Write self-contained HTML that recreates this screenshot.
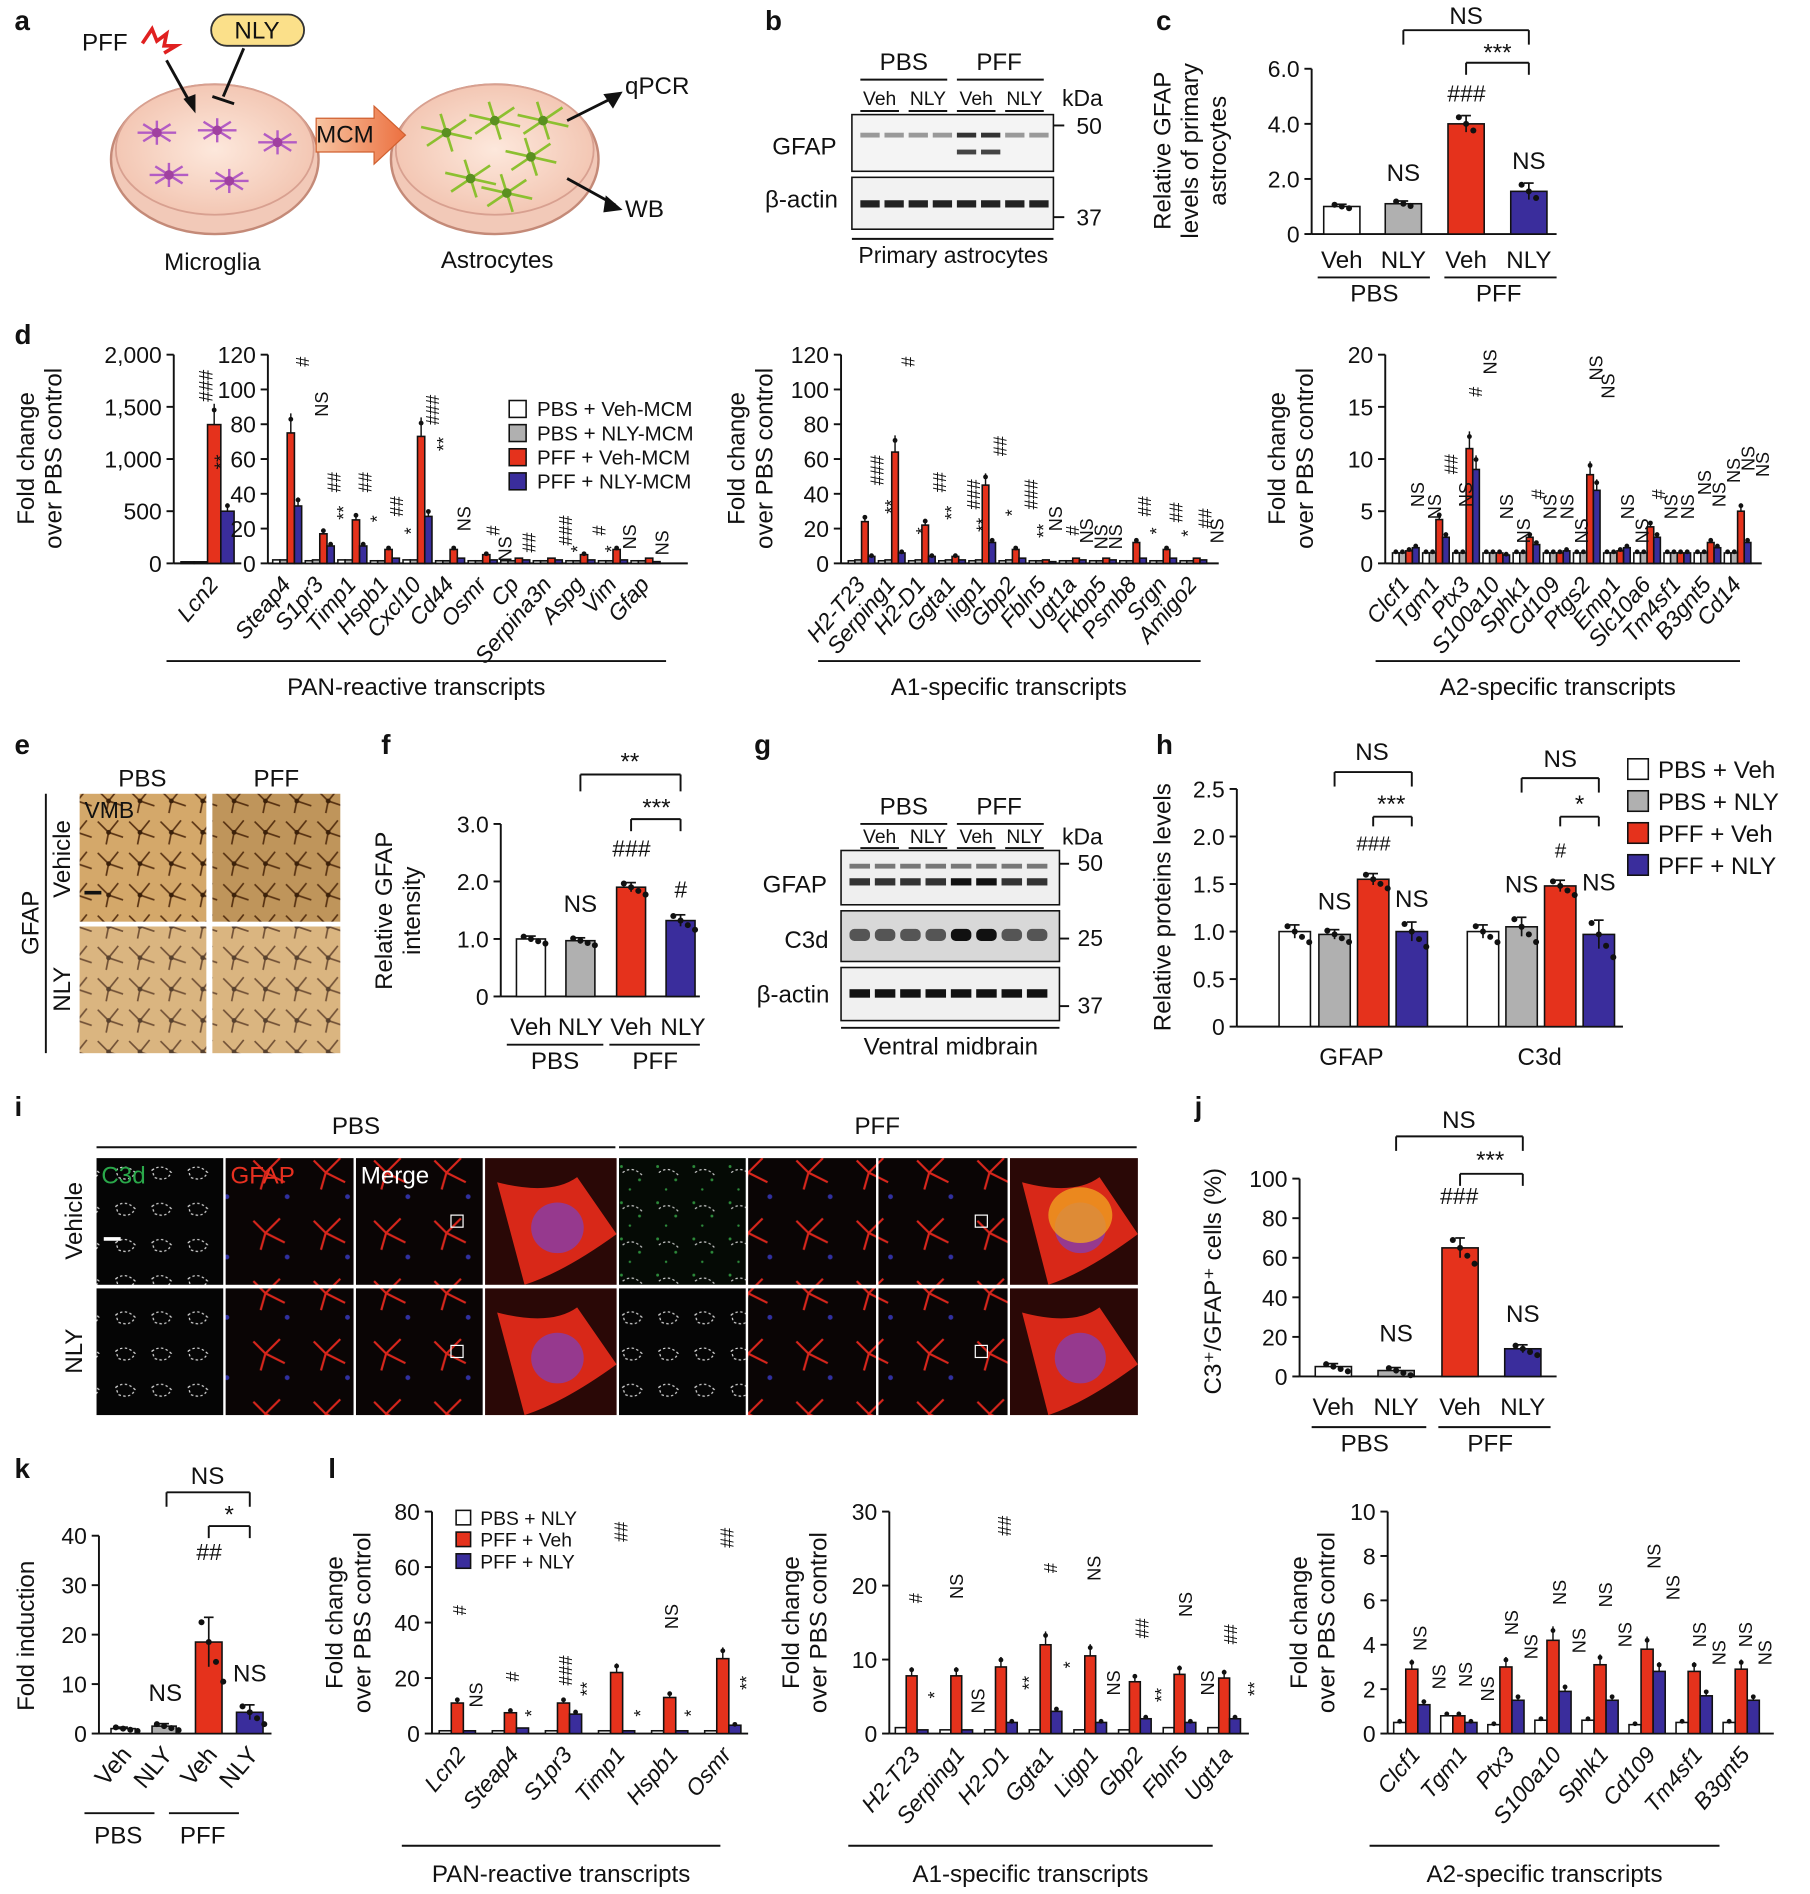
<!DOCTYPE html>
<html><head><meta charset="utf-8">
<style>
html,body{margin:0;padding:0;background:#fff;}
svg{display:block;font-family:"Liberation Sans",Arial,sans-serif;}
</style></head>
<body>
<svg id="s" width="1810" height="1894" viewBox="0 0 1500 1570" preserveAspectRatio="none" xmlns="http://www.w3.org/2000/svg">
<defs>
<radialGradient id="dish" cx="50%" cy="50%" r="50%"><stop offset="0" stop-color="#fde8dc"/><stop offset="1" stop-color="#f3c7b4"/></radialGradient>
<linearGradient id="arrow" x1="0" x2="1"><stop offset="0" stop-color="#f7c3a0"/><stop offset="1" stop-color="#ec7040"/></linearGradient>
<pattern id="brown" width="26" height="26" patternUnits="userSpaceOnUse">
<rect width="26" height="26" fill="#d4a86a"/>
<path d="M3 5 L12 14 L20 4 M12 14 L10 24 M12 14 L24 18" stroke="#5a3414" stroke-width="1.4" fill="none"/>
<circle cx="12" cy="14" r="2" fill="#3a200a"/>
</pattern>
<pattern id="fluor" width="50" height="50" patternUnits="userSpaceOnUse">
<rect width="50" height="50" fill="#0a0505"/>
<path d="M10 12 L20 22 L32 10 M20 22 L16 36 M20 22 L36 30" stroke="#d9261c" stroke-width="1.8" fill="none"/>
<circle cx="38" cy="42" r="2" fill="#3030a0"/>
</pattern>
<pattern id="fluorG" width="30" height="30" patternUnits="userSpaceOnUse">
<rect width="30" height="30" fill="#050a05"/>
<circle cx="5" cy="7" r="1.2" fill="#2c8a3a"/><circle cx="20" cy="18" r="1.2" fill="#2c8a3a"/><circle cx="12" cy="26" r="1" fill="#2c8a3a"/>
<path d="M6 12 q8 -6 16 2" stroke="#ccc" stroke-dasharray="2,2" fill="none"/>
</pattern>
<pattern id="dots" width="30" height="30" patternUnits="userSpaceOnUse">
<rect width="30" height="30" fill="#050505"/>
<path d="M6 10 q8 -6 16 2 q-4 8 -14 4z" stroke="#ddd" stroke-dasharray="2,2" fill="none"/>
</pattern>
</defs>
</svg>
<script>
var S=document.getElementById('s'),NS='http://www.w3.org/2000/svg';
function E(t,a){var e=document.createElementNS(NS,t);for(var k in a)e.setAttribute(k,a[k]);S.appendChild(e);return e;}
function T(x,y,s,o){o=o||{};var a={x:x,y:y,'font-size':o.size||19,fill:o.fill||'#111','text-anchor':o.anchor||'start'};
if(o.rot)a.transform='rotate('+o.rot+' '+x+' '+y+')';if(o.bold)a['font-weight']='bold';if(o.it)a['font-style']='italic';
var e=E('text',a);e.textContent=s;return e;}
function L(x1,y1,x2,y2,w){E('line',{x1:x1,y1:y1,x2:x2,y2:y2,stroke:'#111','stroke-width':w||1.6});}
function R(x,y,w,h,f,st){E('rect',{x:x,y:y,width:w,height:h,fill:f,stroke:st||'#111','stroke-width':1.3});}
var W='#ffffff',G='#b0b0b0',RD='#e5321c',BL='#3a2d9c';
function axis(ax,top,bot,max,ticks,labs,end,size){
 L(ax,top,ax,bot);if(end)L(ax,bot,end,bot);
 ticks.forEach(function(v,i){var y=bot-v/max*(bot-top);L(ax-6,y,ax,y);T(ax-10,y+7,labs?labs[i]:String(v),{anchor:'end',size:size||19});});
}
function bars(ax,top,bot,max,list){list.forEach(function(b){var h=b[2]/max*(bot-top);R(b[0],bot-h,b[1],h,b[3]);
 var e=b[4]!==undefined?b[4]:b[2]*0.08;var ey=e/max*(bot-top);var cx=b[0]+b[1]/2;L(cx,bot-h-ey,cx,bot-h+ey,1.4);L(cx-4,bot-h-ey,cx+4,bot-h-ey,1.4);
 var n=b[5]||3;for(var i=0;i<n;i++){E('circle',{cx:cx-6+i*6,cy:bot-h+(i-1)*ey*0.8,r:2.5,fill:'#111'});}});}
function group(ax,top,bot,max,start,gw,bw,names,series,cols,lx){
 names.forEach(function(n,g){series.forEach(function(vals,s){var v=vals[g];var h=v/max*(bot-top);var x=start+g*gw+s*bw;R(x,bot-h,bw,h,cols[s],'#111');
  if(v/max>0.03){var cx=x+bw/2;var ey=h*0.15;L(cx,bot-h-ey,cx,bot-h,1.2);E('circle',{cx:cx,cy:bot-h-ey*0.7,r:2,fill:'#111'});}});
  var cx=start+g*gw+series.length*bw/2+(lx||4);T(cx,bot+18,n,{anchor:'end',rot:-50,it:true,size:19});});}
function rotLabel(x,y,lines,size){lines.forEach(function(s,i){T(x+i*23,y,s,{rot:-90,anchor:'middle',size:size||20});});}
function bracket(x1,x2,y,d){L(x1,y+d,x1,y);L(x1,y,x2,y);L(x2,y,x2,y+d);}

[['a',12,25],['b',634,25],['c',958,25],['d',12,285],['e',12,625],['f',316,625],['g',625,625],['h',958,625],['i',12,925],['j',990,925],['k',12,1225],['l',272,1225]].forEach(function(p){T(p[1],p[2],p[0],{bold:true,size:23});});

// ---- panel a
E('ellipse',{cx:178,cy:132,rx:86,ry:62,fill:'#f2c9b8',stroke:'#c48a78','stroke-width':2});
E('ellipse',{cx:178,cy:124,rx:82,ry:54,fill:'url(#dish)',stroke:'#d8a090','stroke-width':1.5});
E('ellipse',{cx:410,cy:132,rx:86,ry:62,fill:'#f2c9b8',stroke:'#c48a78','stroke-width':2});
E('ellipse',{cx:410,cy:124,rx:82,ry:54,fill:'url(#dish)',stroke:'#d8a090','stroke-width':1.5});
[[130,110],[180,108],[230,118],[140,145],[190,150]].forEach(function(p){for(var k=0;k<8;k++){var a=k*Math.PI/4;E('line',{x1:p[0],y1:p[1],x2:p[0]+16*Math.cos(a),y2:p[1]+10*Math.sin(a),stroke:'#b35cc4','stroke-width':2});}
 E('circle',{cx:p[0],cy:p[1],r:4,fill:'#a040a0'});});
[[370,110],[410,100],[440,130],[390,148],[450,100],[420,160]].forEach(function(p){for(var k=0;k<6;k++){var a=k*Math.PI/3+0.3;E('line',{x1:p[0],y1:p[1],x2:p[0]+22*Math.cos(a),y2:p[1]+16*Math.sin(a),stroke:'#8cc030','stroke-width':2.2});}
 E('circle',{cx:p[0],cy:p[1],r:4,fill:'#5a9020'});});
E('path',{d:'M262 98 L310 98 L310 88 L336 112 L310 136 L310 126 L262 126 Z',fill:'url(#arrow)',stroke:'#d06030'});
T(262,118,'MCM',{size:20});
T(68,42,'PFF',{size:20});
E('path',{d:'M118 36 l8 -12 l4 10 l8 -6 l-2 10 l10 0 l-10 6',stroke:'#e02020','stroke-width':3,fill:'none'});
E('rect',{x:175,y:12,width:77,height:26,rx:13,fill:'#fbe08a',stroke:'#333','stroke-width':1.5});
T(213,32,'NLY',{anchor:'middle',size:20});
L(138,50,158,86,2.4);E('path',{d:'M152 82 L162 94 L162 78Z',fill:'#111'});
L(202,40,185,80,2.4);L(176,80,194,86,2.4);
T(176,224,'Microglia',{anchor:'middle',size:20});T(412,222,'Astrocytes',{anchor:'middle',size:20});
L(470,100,510,80,2.4);E('path',{d:'M516 76 L500 78 L508 90Z',fill:'#111'});T(518,78,'qPCR',{size:20});
L(470,148,510,170,2.4);E('path',{d:'M516 174 L502 162 L500 176Z',fill:'#111'});T(518,180,'WB',{size:20});

// ---- panel b
T(749,58,'PBS',{anchor:'middle',size:20});T(828,58,'PFF',{anchor:'middle',size:20});
L(713,66,785,66);L(793,66,865,66);
T(729,87,'Veh',{anchor:'middle',size:16});T(769,87,'NLY',{anchor:'middle',size:16});T(809,87,'Veh',{anchor:'middle',size:16});T(849,87,'NLY',{anchor:'middle',size:16});
L(713,92,745,92);L(753,92,785,92);L(793,92,825,92);L(833,92,865,92);
T(897,88,'kDa',{anchor:'middle',size:19});
R(706,95,167,47,'#f4f4f4');R(706,147,167,43,'#f2f2f2');
for(var i=0;i<8;i++){var x=713+i*20;E('rect',{x:x,y:110,width:16,height:4,fill:i>3&&i<6?'#333':'#999'});if(i>3&&i<6)E('rect',{x:x,y:124,width:16,height:4,fill:'#444'});E('rect',{x:x,y:166,width:16,height:6,fill:'#222'});}
L(873,104,882,104);T(892,111,'50',{size:19});L(873,180,882,180);T(892,187,'37',{size:19});
T(640,128,'GFAP',{size:20});T(634,172,'β-actin',{size:20});
L(706,198,873,198);T(790,218,'Primary astrocytes',{anchor:'middle',size:19});

// ---- panel c
axis(1087,57,194,6,[0,2,4,6],['0','2.0','4.0','6.0']);
L(1087,194,1290,194);
bars(1087,57,194,6,[[1097,30,1.0,W,0.08],[1148,30,1.1,G,0.1],[1200,30,4.0,RD,0.3],[1252,30,1.55,BL,0.3]]);
rotLabel(970,125,['Relative GFAP','levels of primary','astrocytes']);
T(1112,222,'Veh',{anchor:'middle',size:20});T(1163,222,'NLY',{anchor:'middle',size:20});T(1215,222,'Veh',{anchor:'middle',size:20});T(1267,222,'NLY',{anchor:'middle',size:20});
L(1092,230,1185,230);L(1197,230,1290,230);T(1139,250,'PBS',{anchor:'middle',size:20});T(1242,250,'PFF',{anchor:'middle',size:20});
bracket(1163,1267,25,12);T(1215,20,'NS',{anchor:'middle',size:20});bracket(1215,1267,52,10);T(1241,50,'***',{anchor:'middle',size:20});
T(1215,84,'###',{anchor:'middle',size:19,it:true});T(1163,150,'NS',{anchor:'middle',size:20});T(1267,140,'NS',{anchor:'middle',size:20});

// ---- panel d
var cols4=[W,G,RD,BL];
rotLabel(28,380,['Fold change','over PBS control']);
axis(144,294,467,2000,[0,500,1000,1500,2000],['0','500','1,000','1,500','2,000'],200);
group(144,294,467,2000,150,48,11,['Lcn2'],[[15],[15],[1330],[500]],cols4,10);
T(176,320,'###',{anchor:'middle',size:16,it:true,rot:-90});T(189,383,'**',{anchor:'middle',size:16,rot:-90});
axis(222,294,467,120,[0,20,40,60,80,100,120],null,570);
group(222,294,467,120,226,27,6,['Steap4','S1pr3','Timp1','Hspb1','Cxcl10','Cd44','Osmr','Cp','Serpina3n','Aspg','Vim','Gfap'],
 [[2,1.5,2,1.5,2,1.5,1.5,1.5,1.5,1.5,1.5,1.5],[2,2,2,1.5,2,1.5,1.5,1.5,1.5,1.5,1.5,1.5],[75,17,25,8,73,8,5,3,3,5,8,3],[33,10,10,3,27,3,2,2,2,2,2,1]],cols4);
[['#',242,300],['NS',258,335],['##',268,400],['**',276,425],['##',294,400],['*',304,430],['##',320,420],['*',332,440],['###',350,340],['**',359,368],['NS',376,430],['#',400,440],['NS',410,455],['##',430,450],['###',460,440],['*',470,455],['#',488,440],['*',498,455],['NS',513,445],['NS',540,450]].forEach(function(a){T(a[1]+14,a[2],a[0],{rot:-90,size:15,it:a[0][0]=='#',anchor:'middle'});});
[[W,'PBS + Veh-MCM'],[G,'PBS + NLY-MCM'],[RD,'PFF + Veh-MCM'],[BL,'PFF + NLY-MCM']].forEach(function(l,i){R(422,332+i*20,14,14,l[0]);T(445,345+i*20,l[1],{size:17});});
L(138,548,552,548);T(345,576,'PAN-reactive transcripts',{anchor:'middle',size:20});
rotLabel(617,380,['Fold change','over PBS control']);
axis(697,294,467,120,[0,20,40,60,80,100,120],null,1010);
group(697,294,467,120,703,25,5.5,['H2-T23','Serping1','H2-D1','Ggta1','Iigp1','Gbp2','Fbln5','Ugt1a','Fkbp5','Psmb8','Srgn','Amigo2'],
 [[1.5,1.5,1.5,1.5,1.5,1.5,1.5,1.5,1.5,1.5,1.5,1.5],[2,2,2,2,2,2,1.5,1.5,1.5,1.5,1.5,1.5],[24,64,22,4,45,8,2,3,3,12,8,3],[4,6,4,2,12,3,1,2,2,3,3,2]],cols4);
[['###',718,390],['**',730,420],['#',744,300],['*',756,440],['##',770,400],['**',780,425],['###',798,410],['**',806,435],['##',820,370],['*',830,425],['###',846,410],['**',856,440],['NS',866,430],['#',880,440],['NS',892,440],['NS',904,445],['NS',916,445],['##',940,420],['*',950,440],['##',966,425],['*',976,442],['##',990,430],['NS',1000,440]].forEach(function(a){T(a[1]+14,a[2],a[0],{rot:-90,size:15,it:a[0][0]=='#',anchor:'middle'});});
L(678,548,995,548);T(836,576,'A1-specific transcripts',{anchor:'middle',size:20});
rotLabel(1065,380,['Fold change','over PBS control']);
axis(1148,294,467,20,[0,5,10,15,20],null,1460);
group(1148,294,467,20,1154,25,5.5,['Clcf1','Tgm1','Ptx3','S100a10','Sphk1','Cd109','Ptgs2','Emp1','Slc10a6','Tm4sf1','B3gnt5','Cd14'],
 [[1,1,1,1,1,1,1,1,1,1,1,1],[1,1,1,1,1,1,1,1,1,1,1,1],[1.2,4.2,11,1,2.5,1,8.5,1.2,3.5,1,2,5],[1.5,2.5,9,0.8,1.8,1.2,7,1.5,2.5,1,1.5,2]],cols4);
[['NS',1166,410],['NS',1180,420],['##',1194,385],['NS',1206,410],['#',1214,325],['NS',1226,300],['NS',1240,420],['NS',1254,440],['#',1266,410],['NS',1276,420],['NS',1290,420],['NS',1302,440],['NS',1314,305],['NS',1324,320],['NS',1340,420],['NS',1352,440],['#',1366,410],['NS',1376,420],['NS',1390,420],['NS',1404,400],['NS',1416,410],['NS',1428,390],['NS',1440,380],['NS',1452,385]].forEach(function(a){T(a[1]+14,a[2],a[0],{rot:-90,size:15,it:a[0][0]=='#',anchor:'middle'});});
L(1140,548,1442,548);T(1291,576,'A2-specific transcripts',{anchor:'middle',size:20});

// ---- panel e
T(118,652,'PBS',{anchor:'middle',size:20});T(229,652,'PFF',{anchor:'middle',size:20});
E('rect',{x:66,y:658,width:105,height:106,fill:'url(#brown)'});E('rect',{x:176,y:658,width:106,height:106,fill:'url(#brown)'});
E('rect',{x:176,y:658,width:106,height:106,fill:'#4a2808',opacity:0.15});
E('rect',{x:66,y:768,width:105,height:105,fill:'url(#brown)'});E('rect',{x:176,y:768,width:106,height:105,fill:'url(#brown)'});
E('rect',{x:66,y:768,width:216,height:105,fill:'#fff',opacity:0.15});
T(70,678,'VMB',{size:19});L(70,740,84,740,3);
L(38,658,38,873);
T(58,712,'Vehicle',{rot:-90,anchor:'middle',size:20});T(58,820,'NLY',{rot:-90,anchor:'middle',size:20});
T(32,765,'GFAP',{rot:-90,anchor:'middle',size:20});

// ---- panel f
axis(415,683,826,3,[0,1,2,3],['0','1.0','2.0','3.0']);L(415,826,580,826);
bars(415,683,826,3,[[428,24,1.0,W,0.05,4],[469,24,0.97,G,0.05,4],[511,24,1.9,RD,0.08,4],[552,24,1.32,BL,0.1,4]]);
rotLabel(325,755,['Relative GFAP','intensity']);
T(440,858,'Veh',{anchor:'middle',size:20});T(481,858,'NLY',{anchor:'middle',size:20});T(523,858,'Veh',{anchor:'middle',size:20});T(566,858,'NLY',{anchor:'middle',size:20});
L(420,866,500,866);L(505,866,580,866);T(460,886,'PBS',{anchor:'middle',size:20});T(543,886,'PFF',{anchor:'middle',size:20});
bracket(481,564,642,14);T(522,638,'**',{anchor:'middle',size:20});bracket(523,564,679,10);T(544,676,'***',{anchor:'middle',size:20});
T(523,710,'###',{anchor:'middle',size:19,it:true});T(481,756,'NS',{anchor:'middle',size:20});T(564,744,'#',{anchor:'middle',size:19,it:true});

// ---- panel g
T(749,675,'PBS',{anchor:'middle',size:20});T(828,675,'PFF',{anchor:'middle',size:20});
L(713,683,785,683);L(793,683,865,683);
T(729,699,'Veh',{anchor:'middle',size:16});T(769,699,'NLY',{anchor:'middle',size:16});T(809,699,'Veh',{anchor:'middle',size:16});T(849,699,'NLY',{anchor:'middle',size:16});
L(713,703,745,703);L(753,703,785,703);L(793,703,825,703);L(833,703,865,703);
T(897,700,'kDa',{anchor:'middle',size:19});
R(697,705,181,45,'#efefef');R(697,755,181,42,'#d8d8d8');R(697,802,181,44,'#f0f0f0');
for(var i=0;i<8;i++){var x=704+i*21;E('rect',{x:x,y:716,width:17,height:4,fill:'#777'});E('rect',{x:x,y:728,width:17,height:6,fill:i==4||i==5?'#111':'#333'});
 E('rect',{x:x,y:770,width:17,height:10,rx:4,fill:i==4||i==5?'#111':'#555'});E('rect',{x:x,y:820,width:17,height:7,fill:'#111'});}
L(878,716,886,716);T(893,722,'50',{size:19});L(878,778,886,778);T(893,784,'25',{size:19});L(878,834,886,834);T(893,840,'37',{size:19});
T(632,740,'GFAP',{size:20});T(650,786,'C3d',{size:20});T(627,831,'β-actin',{size:20});
L(697,852,878,852);T(788,874,'Ventral midbrain',{anchor:'middle',size:20});

// ---- panel h
axis(1025,654,851,2.5,[0,0.5,1,1.5,2,2.5],['0','0.5','1.0','1.5','2.0','2.5']);L(1025,851,1345,851);
bars(1025,654,851,2.5,[[1060,26,1.0,W,0.07,4],[1093,26,0.97,G,0.05,4],[1125,26,1.55,RD,0.06,4],[1157,26,1.0,BL,0.1,4],
 [1216,26,1.0,W,0.07,4],[1248,26,1.05,G,0.1,4],[1280,26,1.48,RD,0.06,4],[1312,26,0.97,BL,0.15,4]]);
rotLabel(970,752,['Relative proteins levels']);
T(1120,883,'GFAP',{anchor:'middle',size:20});T(1276,883,'C3d',{anchor:'middle',size:20});
bracket(1106,1170,640,12);T(1137,630,'NS',{anchor:'middle',size:20});bracket(1138,1170,677,8);T(1153,673,'***',{anchor:'middle',size:20});
T(1138,705,'###',{anchor:'middle',size:17,it:true});T(1106,754,'NS',{anchor:'middle',size:20});T(1170,752,'NS',{anchor:'middle',size:20});
bracket(1261,1325,645,12);T(1293,636,'NS',{anchor:'middle',size:20});bracket(1293,1325,677,8);T(1309,673,'*',{anchor:'middle',size:20});
T(1293,711,'#',{anchor:'middle',size:17,it:true});T(1261,740,'NS',{anchor:'middle',size:20});T(1325,738,'NS',{anchor:'middle',size:20});
[[W,'PBS + Veh'],[G,'PBS + NLY'],[RD,'PFF + Veh'],[BL,'PFF + NLY']].forEach(function(l,i){R(1349,629+i*26.5,17,17,l[0]);T(1374,645+i*26.5,l[1],{size:20});});

// ---- panel i
T(295,940,'PBS',{anchor:'middle',size:20});T(727,940,'PFF',{anchor:'middle',size:20});
L(80,951,510,951);L(513,951,942,951);
var cx=[80,187,295,402,513,620,728,837];
[[960,1065],[1068,1173]].forEach(function(r,ri){cx.forEach(function(x,ci){var w=(ci<7?cx[ci+1]-2:943)-x;var h=r[1]-r[0];
 var f=(ci%4==0)?(ci==4&&ri==0?'url(#fluorG)':'url(#dots)'):(ci%4==3?'#2a0806':'url(#fluor)');
 E('rect',{x:x,y:r[0],width:w,height:h,fill:f});
 if(ci%4==3){E('path',{d:'M'+(x+10)+' '+(r[0]+20)+' Q'+(x+w/2)+' '+(r[0]+h*0.3)+' '+(x+w*0.7)+' '+(r[0]+h*0.15)+' L'+(x+w)+' '+(r[0]+h*0.6)+' Q'+(x+w*0.6)+' '+(r[0]+h*0.9)+' '+(x+w*0.3)+' '+(r[1])+' Z',fill:'#d82818'});
  E('ellipse',{cx:x+w*0.55,cy:r[0]+h*0.55,rx:w*0.2,ry:h*0.2,fill:'#7a40c0',opacity:0.7});
  if(ci==7&&ri==0)E('ellipse',{cx:x+w*0.55,cy:r[0]+h*0.45,rx:w*0.25,ry:h*0.22,fill:'#f0a020',opacity:0.8});}
 if(ci%4==2){E('rect',{x:x+w*0.75,y:r[0]+h*0.45,width:10,height:10,fill:'none',stroke:'#fff'});}
});});
T(84,981,'C3d',{size:20,fill:'#2aa84a'});T(191,981,'GFAP',{size:20,fill:'#e83020'});T(299,981,'Merge',{size:20,fill:'#fff'});
E('line',{x1:86,y1:1027,x2:100,y2:1027,stroke:'#fff','stroke-width':3});
T(68,1012,'Vehicle',{rot:-90,anchor:'middle',size:20});T(68,1120,'NLY',{rot:-90,anchor:'middle',size:20});

// ---- panel j
axis(1077,977,1141,100,[0,20,40,60,80,100]);L(1077,1141,1290,1141);
bars(1077,977,1141,100,[[1090,30,5,W,1.5,4],[1142,30,3,G,1.5,4],[1195,30,65,RD,5,4],[1247,30,14,BL,2,4]]);
T(1012,1062,'C3⁺/GFAP⁺ cells (%)',{rot:-90,anchor:'middle',size:20});
T(1105,1173,'Veh',{anchor:'middle',size:20});T(1157,1173,'NLY',{anchor:'middle',size:20});T(1210,1173,'Veh',{anchor:'middle',size:20});T(1262,1173,'NLY',{anchor:'middle',size:20});
L(1087,1183,1182,1183);L(1192,1183,1285,1183);T(1131,1203,'PBS',{anchor:'middle',size:20});T(1235,1203,'PFF',{anchor:'middle',size:20});
bracket(1157,1262,942,12);T(1209,935,'NS',{anchor:'middle',size:20});bracket(1210,1262,973,10);T(1235,968,'***',{anchor:'middle',size:20});
T(1209,998,'###',{anchor:'middle',size:19,it:true});T(1157,1112,'NS',{anchor:'middle',size:20});T(1262,1096,'NS',{anchor:'middle',size:20});

// ---- panel k
axis(82,1273,1437,40,[0,10,20,30,40]);L(82,1437,225,1437);
bars(82,1273,1437,40,[[92,20,1,W,0.3,4],[126,20,1.5,G,0.5,4],[162,22,18.5,RD,5,4],[196,22,4.3,BL,1.5,4]]);
rotLabel(28,1356,['Fold induction']);
[['Veh',102],['NLY',136],['Veh',173],['NLY',207]].forEach(function(a){T(a[1]+8,1455,a[0],{rot:-50,anchor:'end',size:20});});
L(70,1503,128,1503);L(140,1503,198,1503);T(98,1528,'PBS',{anchor:'middle',size:20});T(168,1528,'PFF',{anchor:'middle',size:20});
bracket(138,207,1237,12);T(172,1230,'NS',{anchor:'middle',size:20});bracket(173,207,1265,10);T(190,1262,'*',{anchor:'middle',size:20});
T(173,1293,'##',{anchor:'middle',size:19,it:true});T(137,1410,'NS',{anchor:'middle',size:20});T(207,1394,'NS',{anchor:'middle',size:20});

// ---- panel l
var cols3=[W,RD,BL];
rotLabel(284,1345,['Fold change','over PBS control']);
axis(358,1253,1437,80,[0,20,40,60,80],null,620);
group(358,1253,1437,80,364,44,10,['Lcn2','Steap4','S1pr3','Timp1','Hspb1','Osmr'],[[1,1,1,1,1,1],[11,7.5,11,22,13,27],[1,2,7,1,1,3]],cols3,8);
[['#',386,1335],['NS',400,1405],['#',430,1390],['*',446,1420],['###',474,1385],['**',492,1400],['##',520,1270],['*',536,1420],['NS',562,1340],['*',578,1420],['##',608,1275],['**',624,1395]].forEach(function(a){T(a[1],a[2],a[0],{rot:-90,size:15,it:a[0][0]=='#',anchor:'middle'});});
[[W,'PBS + NLY'],[RD,'PFF + Veh'],[BL,'PFF + NLY']].forEach(function(l,i){R(378,1252+i*18,12,12,l[0]);T(398,1264+i*18,l[1],{size:16});});
L(333,1530,597,1530);T(465,1560,'PAN-reactive transcripts',{anchor:'middle',size:20});
rotLabel(662,1345,['Fold change','over PBS control']);
axis(737,1253,1437,30,[0,10,20,30],null,1035);
group(737,1253,1437,30,742,37,9,['H2-T23','Serping1','H2-D1','Ggta1','Ligp1','Gbp2','Fbln5','Ugt1a'],[[0.8,0.5,0.5,0.5,0.5,0.5,0.8,0.8],[7.8,7.8,9,12,10.5,7,8,7.5],[0.5,0.5,1.5,3,1.5,2,1.5,2]],cols3,8);
[['#',764,1325],['*',780,1405],['NS',798,1315],['NS',816,1410],['##',838,1265],['**',858,1395],['#',876,1300],['*',892,1380],['NS',912,1300],['NS',928,1395],['##',952,1350],['**',968,1405],['NS',988,1330],['NS',1006,1395],['##',1025,1355],['**',1045,1400]].forEach(function(a){T(a[1],a[2],a[0],{rot:-90,size:15,it:a[0][0]=='#',anchor:'middle'});});
L(703,1530,1005,1530);T(854,1560,'A1-specific transcripts',{anchor:'middle',size:20});
rotLabel(1083,1345,['Fold change','over PBS control']);
axis(1150,1253,1437,10,[0,2,4,6,8,10],null,1470);
group(1150,1253,1437,10,1155,39,10,['Clcf1','Tgm1','Ptx3','S100a10','Sphk1','Cd109','Tm4sf1','B3gnt5'],[[0.5,0.8,0.4,0.6,0.6,0.4,0.5,0.5],[2.9,0.8,3,4.2,3.1,3.8,2.8,2.9],[1.3,0.5,1.5,1.9,1.5,2.8,1.7,1.5]],cols3,8);
[['NS',1182,1358],['NS',1198,1390],['NS',1220,1388],['NS',1238,1400],['NS',1258,1345],['NS',1274,1365],['NS',1298,1320],['NS',1314,1360],['NS',1336,1322],['NS',1352,1355],['NS',1376,1290],['NS',1392,1316],['NS',1414,1355],['NS',1430,1370],['NS',1452,1355],['NS',1468,1370]].forEach(function(a){T(a[1],a[2],a[0],{rot:-90,size:15,anchor:'middle'});});
L(1135,1530,1425,1530);T(1280,1560,'A2-specific transcripts',{anchor:'middle',size:20});
</script>
</body></html>
